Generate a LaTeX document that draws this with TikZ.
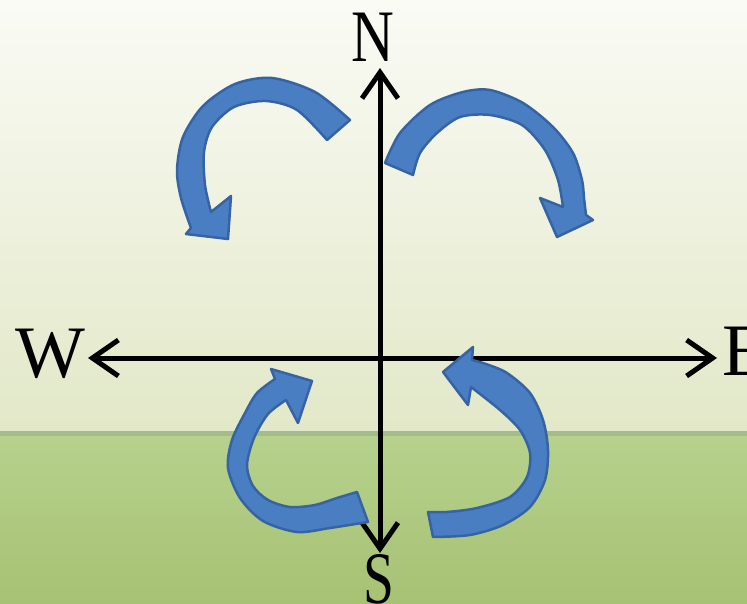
\documentclass[tikz,border=0pt]{standalone}
\usepackage{fontspec}
\setmainfont{Liberation Serif}
\usetikzlibrary{arrows.meta}
\definecolor{skytop}{HTML}{FAFBF5}
\definecolor{skybot}{HTML}{E2E8C8}
\definecolor{horizon}{HTML}{A4BC8C}
\definecolor{groundtop}{HTML}{B6D18C}
\definecolor{groundbot}{HTML}{A7C273}
\definecolor{arrowfill}{HTML}{4A7EC2}
\definecolor{arrowedge}{HTML}{3563A3}
\begin{document}
\begin{tikzpicture}[x=1pt,y=-1pt,
  axis/.style={line width=5pt,
    {Straight Barb[length=26pt,width=36pt]}-{Straight Barb[length=26pt,width=36pt]}},
  turn/.style={fill=arrowfill, draw=arrowedge, line width=2.5pt, line join=round},
  dirlabel/.style={font=\fontsize{74}{80}\selectfont, inner sep=0pt, anchor=base}]
% background
\useasboundingbox (0,0) rectangle (747,604);
\shade[top color=skytop, bottom color=skybot] (0,0) rectangle (747,431);
\fill[horizon] (0,431) rectangle (747,436);
\shade[top color=groundtop, bottom color=groundbot] (0,436) rectangle (747,604);
% axis ends
\coordinate (nTip) at (380,68);
\coordinate (sTip) at (380,553);
\coordinate (wTip) at (88,358);
\coordinate (eTip) at (717,358);
\draw[axis] (nTip) -- (sTip);
\draw[axis] (wTip) -- (eTip);
% labels
\node[dirlabel, xscale=0.8] (N) at (372.5,62) {N};
\node[dirlabel, xscale=0.75] (S) at (379,603) {S};
\node[dirlabel] (W) at (50,377) {W};
\node[dirlabel, anchor=base west] (E) at (722,375) {E};
% top-left turning arrow
\filldraw[turn] plot[smooth] coordinates {(350,120) (315,92) (272,78) (235,84) (203,106) (183,137) (177,170) (181,198) (191,228)}
  -- (186,234) -- (228,239) -- (231,196)
  -- plot[smooth] coordinates {(211,212) (205,185) (204,152) (212,127) (234,107) (266,101) (297,110) (327,140)} -- cycle;
% top-right turning arrow
\filldraw[turn] plot[smooth] coordinates {(385,163) (400,133) (430,105) (463,92) (490,90) (523,103) (553,127) (573,153) (582,180) (584,198) (586,215)}
  -- (593,220) -- (557,237) -- (540,198)
  -- plot[smooth] coordinates {(563,207) (558,180) (545,150) (522,125) (490,115) (460,117) (437,133) (420,153) (413,175)} -- cycle;
% bottom-left turning arrow
\filldraw[turn] plot[smooth] coordinates {(368,522) (330,528) (297,532) (263,521) (240,498) (228,468) (232,440) (245,413) (257,393) (275,379)}
  -- (271,369) -- (312,381) -- (298,423)
  -- plot[smooth] coordinates {(286,400) (268,414) (254,438) (247,465) (253,486) (268,500) (290,507) (315,505) (337,498) (357,492)} -- cycle;
% bottom-right turning arrow
\filldraw[turn] plot[smooth] coordinates {(433,537) (470,535) (503,525) (530,507) (545,480) (548,450) (543,420) (530,393) (507,373) (486,364) (472,360)}
  -- (473,347) -- (443,372) -- (468,405)
  -- plot[smooth] coordinates {(471,387) (500,410) (520,430) (530,453) (527,477) (510,497) (477,508) (447,512) (428,512)} -- cycle;
\end{tikzpicture}
\end{document}
